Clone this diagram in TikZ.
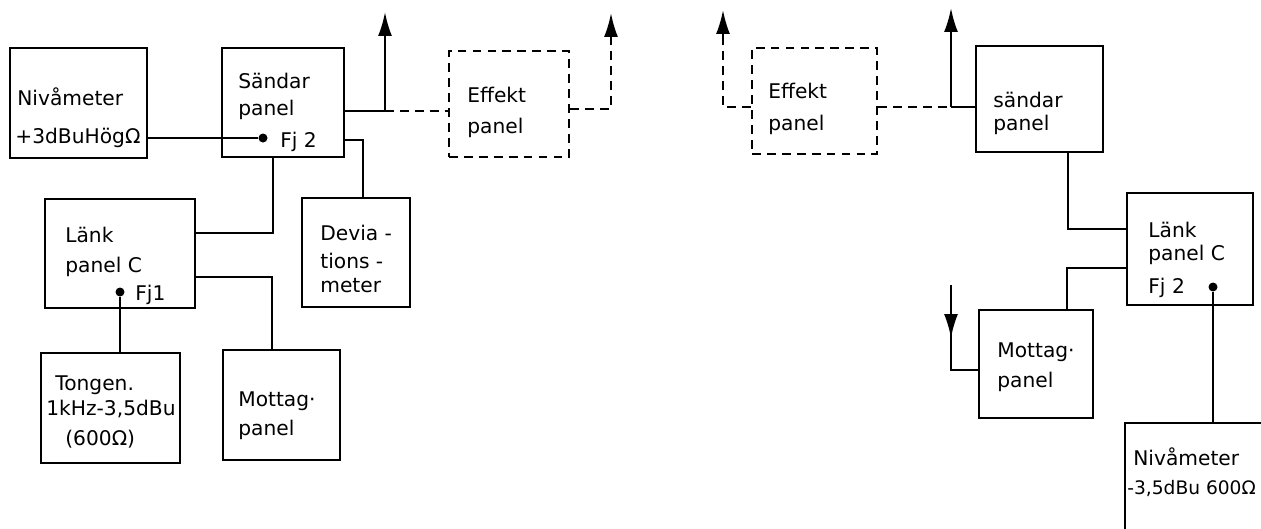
\documentclass[tikz,border=0pt]{standalone}
\usepackage{fontspec}
\setmainfont{DejaVu Sans}
\usetikzlibrary{fit,arrows.meta}
\begin{document}
\begin{tikzpicture}[x=0.02cm,y=-0.02cm,
  blk/.style={draw, line width=1.3pt, inner sep=0pt},
  dblk/.style={blk, dash pattern=on 5pt off 3.5pt},
  wire/.style={line width=1.2pt},
  dwire/.style={wire, dash pattern=on 5pt off 3.5pt},
  txt/.style={anchor=base west, inner sep=0pt, font=\fontsize{11.5}{13}\selectfont},
  dotc/.style={circle, fill, inner sep=0pt, minimum size=0.18cm},
  arr/.style={-{Latex[length=0.48cm,width=0.28cm]}}]
\useasboundingbox (0,0) rectangle (1261,528);
\clip (0,0) rectangle (1261,528);

% boxes
\node[blk, fit={(10,48)(147,158)}] (niv1) {};
\node[blk, fit={(222,48)(344,157)}] (snd1) {};
\node[dblk, fit={(449,51)(569,157)}] (eff1) {};
\node[blk, fit={(302,198)(410,307)}] (dev) {};
\node[blk, fit={(45,199)(195,308)}] (lnk1) {};
\node[blk, fit={(41,353)(180,463)}] (ton) {};
\node[blk, fit={(223,350)(340,460)}] (mot1) {};
\node[dblk, fit={(752,48)(877,154)}] (eff2) {};
\node[blk, fit={(976,46)(1103,152)}] (snd2) {};
\node[blk, fit={(1127,193)(1253,305)}] (lnk2) {};
\node[blk, fit={(979,310)(1093,418)}] (mot2) {};
\node[blk, fit={(1125,423)(1320,580)}] (niv2) {};

% dots and points
\node[dotc] (fj2a) at (263,138) {};
\node[dotc] (fj1a) at (120,292) {};
\node[dotc] (fj2b) at (1213,287) {};
\coordinate (j1) at (385,111);
\coordinate (t1) at (385,12);
\coordinate (j2) at (611,109);
\coordinate (t2d) at (611,40);
\coordinate (t2) at (611,13);
\coordinate (j3) at (723,107);
\coordinate (t3d) at (723,40);
\coordinate (t3) at (723,10);
\coordinate (j4) at (951,107);
\coordinate (t4) at (951,8);
\coordinate (b1) at (273,233);
\coordinate (b2) at (363,140);
\coordinate (b3) at (272,277);
\coordinate (b4) at (1068,229);
\coordinate (b5) at (1067,268);
\coordinate (a5top) at (951,285);
\coordinate (a5tip) at (951,338);
\coordinate (b6) at (951,370);

% left connectors
\draw[wire] (niv1.east |- fj2a) -- (fj2a);
\draw[wire] (snd1.east |- j1) -- (j1);
\draw[wire, arr] (j1) -- (t1);
\draw[dwire] (j1) -- (eff1.west |- j1);
\draw[dwire] (eff1.east |- j2) -- (j2) -- (t2d);
\draw[wire, arr] (t2d) -- (t2);
\draw[wire] (snd1.south -| b1) |- (lnk1.east |- b1);
\draw[wire] (snd1.east |- b2) -- (b2) -- (dev.north -| b2);
\draw[wire] (lnk1.east |- b3) -- (b3) -- (mot1.north -| b3);
\draw[wire] (fj1a) -- (ton.north -| fj1a);

% right connectors
\draw[dwire] (eff2.west |- j3) -- (j3) -- (t3d);
\draw[wire, arr] (t3d) -- (t3);
\draw[dwire] (eff2.east |- j4) -- (j4);
\draw[wire, arr] (j4) -- (t4);
\draw[wire] (j4) -- (snd2.west |- j4);
\draw[wire] (snd2.south -| b4) |- (lnk2.west |- b4);
\draw[wire] (lnk2.west |- b5) -- (b5) -- (mot2.north -| b5);
\draw[wire] (a5top) -- (b6) -- (mot2.west |- b6);
\draw[wire, arr] (a5top) -- (a5tip);
\draw[wire] (fj2b) -- (niv2.north -| fj2b);

% texts left
\node[txt] (tniv1a) at (17,105) {Nivåmeter};
\node[txt] (tniv1b) at (15,143) {+3dBuHögΩ};
\node[txt] (tsnd1a) at (238,88) {Sändar};
\node[txt] (tsnd1b) at (238,115) {panel};
\node[txt] (tfj2a) at (280,147) {Fj 2};
\node[txt] (teff1a) at (467,102) {Effekt};
\node[txt] (teff1b) at (467,133) {panel};
\node[txt] (tdev1) at (320,240) {Devia -};
\node[txt] (tdev2) at (320,268) {tions -};
\node[txt] (tdev3) at (320,292) {meter};
\node[txt] (tlnk1a) at (65,242) {Länk};
\node[txt] (tlnk1b) at (65,272) {panel C};
\node[txt] (tfj1) at (135,300) {Fj1};
\node[txt] (tton1) at (55,390) {Tongen.};
\node[txt] (tton2) at (46,415) {1kHz-3,5dBu};
\node[txt] (tton3) at (65,445) {(600Ω)};
\node[txt] (tmot1a) at (238,406) {Mottag·};
\node[txt] (tmot1b) at (238,435) {panel};

% texts right
\node[txt] (teff2a) at (768,98) {Effekt};
\node[txt] (teff2b) at (768,130) {panel};
\node[txt] (tsnd2a) at (993,107) {sändar};
\node[txt] (tsnd2b) at (993,130) {panel};
\node[txt] (tlnk2a) at (1148,237) {Länk};
\node[txt] (tlnk2b) at (1148,260) {panel C};
\node[txt] (tfj2b) at (1148,293) {Fj 2};
\node[txt] (tmot2a) at (997,357) {Mottag·};
\node[txt] (tmot2b) at (997,387) {panel};
\node[txt] (tniv2a) at (1133,465) {Nivåmeter};
\node[txt, font=\fontsize{10.6}{13}\selectfont] (tniv2b) at (1127,494) {-3,5dBu 600Ω};
\end{tikzpicture}
\end{document}
